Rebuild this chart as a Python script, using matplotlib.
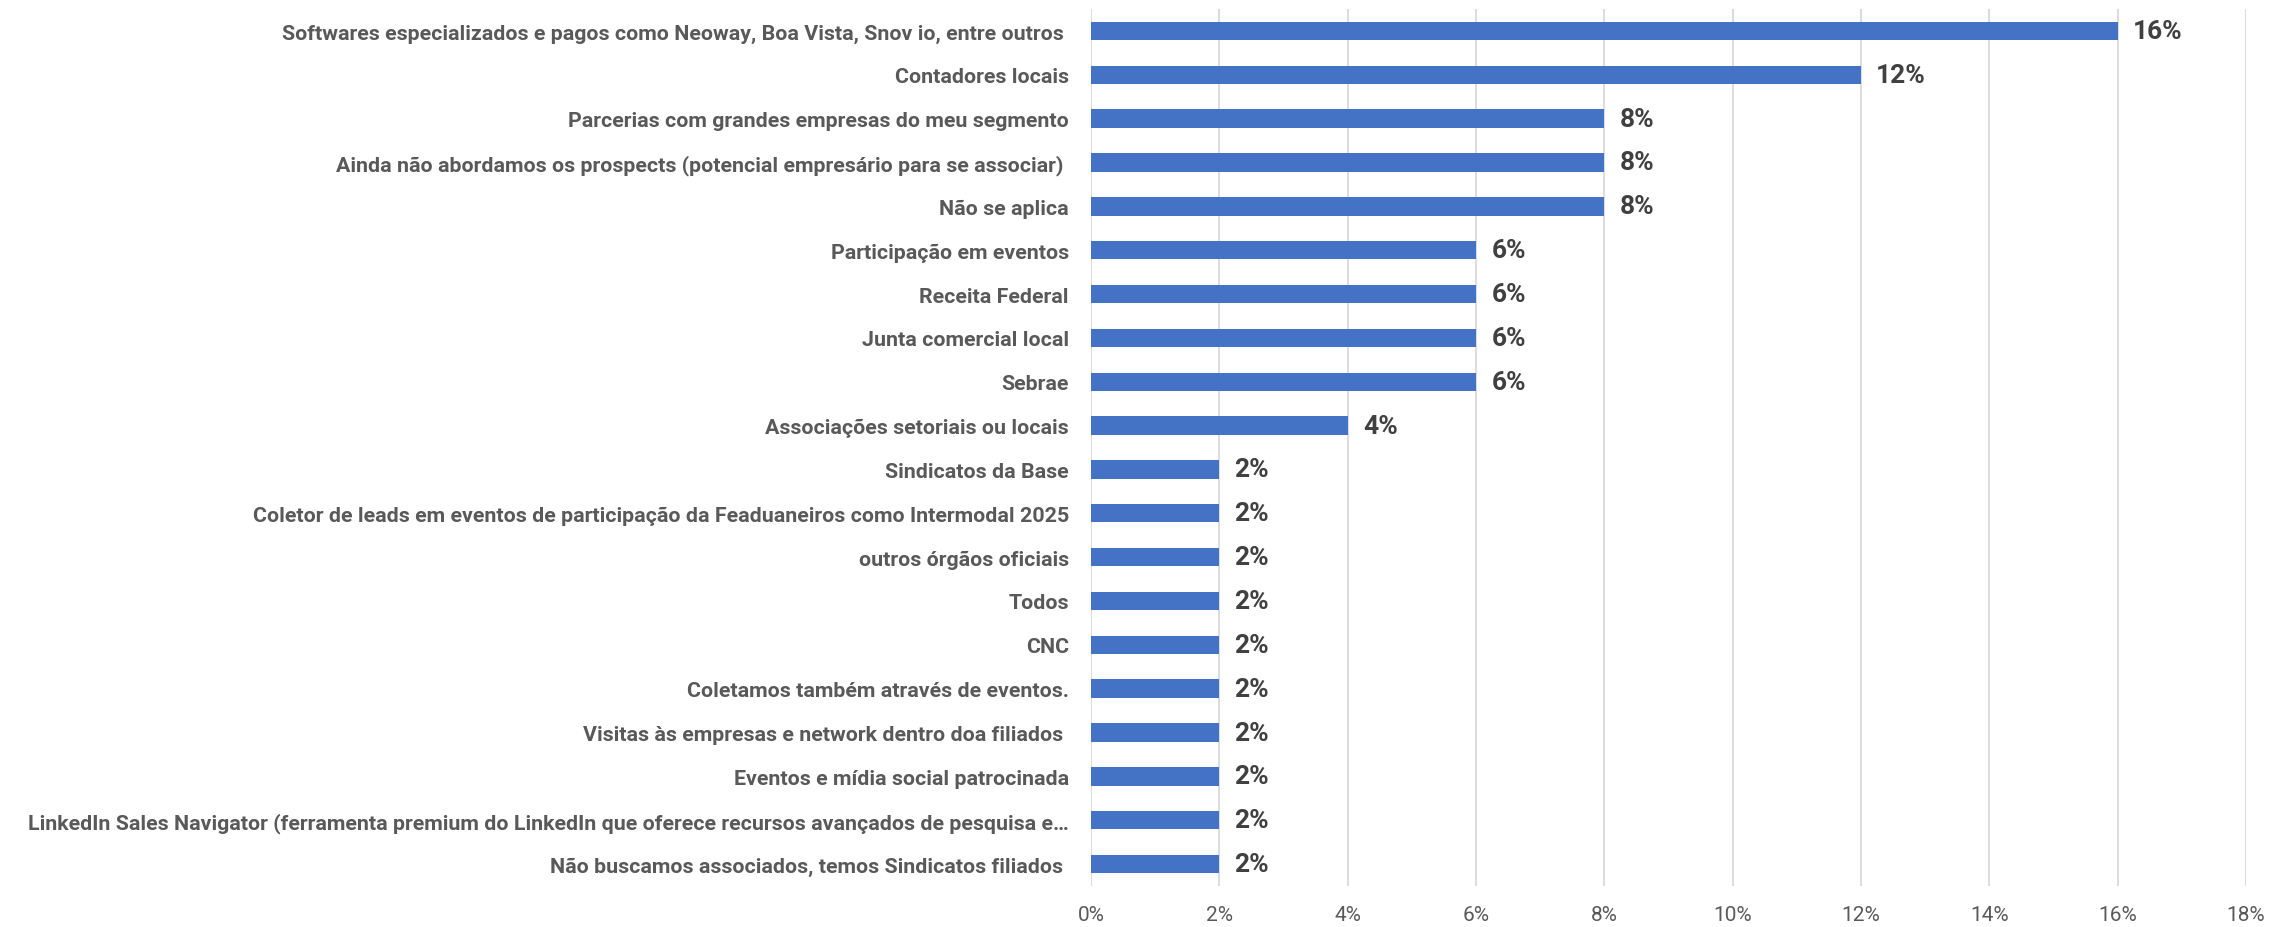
import matplotlib
matplotlib.use("Agg")
import matplotlib.pyplot as plt
from matplotlib.ticker import FuncFormatter, MultipleLocator

plt.rcParams['font.family'] = ['Roboto', 'DejaVu Sans']

categories = [
    "Softwares especializados e pagos como Neoway, Boa Vista, Snov io, entre outros ",
    "Contadores locais",
    "Parcerias com grandes empresas do meu segmento",
    "Ainda não abordamos os prospects (potencial empresário para se associar) ",
    "Não se aplica",
    "Participação em eventos",
    "Receita Federal",
    "Junta comercial local",
    "Sebrae",
    "Associações setoriais ou locais",
    "Sindicatos da Base",
    "Coletor de leads em eventos de participação da Feaduaneiros como Intermodal 2025",
    "outros órgãos oficiais",
    "Todos",
    "CNC",
    "Coletamos também através de eventos.",
    "Visitas às empresas e network dentro doa filiados ",
    "Eventos e mídia social patrocinada",
    "LinkedIn Sales Navigator (ferramenta premium do LinkedIn que oferece recursos avançados de pesquisa e…",
    "Não buscamos associados, temos Sindicatos filiados ",
]
values = [16, 12, 8, 8, 8, 6, 6, 6, 6, 4, 2, 2, 2, 2, 2, 2, 2, 2, 2, 2]
value_labels = ["16%", "12%", "8%", "8%", "8%", "6%", "6%", "6%", "6%", "4%",
                "2%", "2%", "2%", "2%", "2%", "2%", "2%", "2%", "2%", "2%"]

fig = plt.figure(figsize=(22.72, 9.28), dpi=100)
ax = fig.add_axes([1091/2272, 1 - 887/928, (2246 - 1091)/2272, 877/928])

y = list(range(len(categories)))
ax.barh(y, values, height=0.42, color="#4472C4", zorder=3)
ax.set_ylim(len(categories) - 0.5, -0.5)
ax.set_xlim(0, 18)
ax.xaxis.set_major_locator(MultipleLocator(2))
ax.xaxis.set_major_formatter(FuncFormatter(lambda v, p: f"{int(round(v))}%"))
ax.grid(axis="x", color="#D9D9D9", linewidth=1.3, zorder=0)
ax.grid(axis="y", visible=False)
for s in ax.spines.values():
    s.set_visible(False)

ax.set_yticks(y)
ax.set_yticklabels(categories, fontsize=15.4, fontweight="bold", color="#595959")
ax.tick_params(axis="y", length=0, pad=16)
ax.tick_params(axis="x", length=0, pad=14, labelsize=15, labelcolor="#595959")

for yi, v, lab in zip(y, values, value_labels):
    ax.annotate(lab, (v, yi), xytext=(11, 0), textcoords="offset points",
                va="center", ha="left", fontsize=19, fontweight="bold", color="#404040")

fig.savefig("out.png", dpi=100)
